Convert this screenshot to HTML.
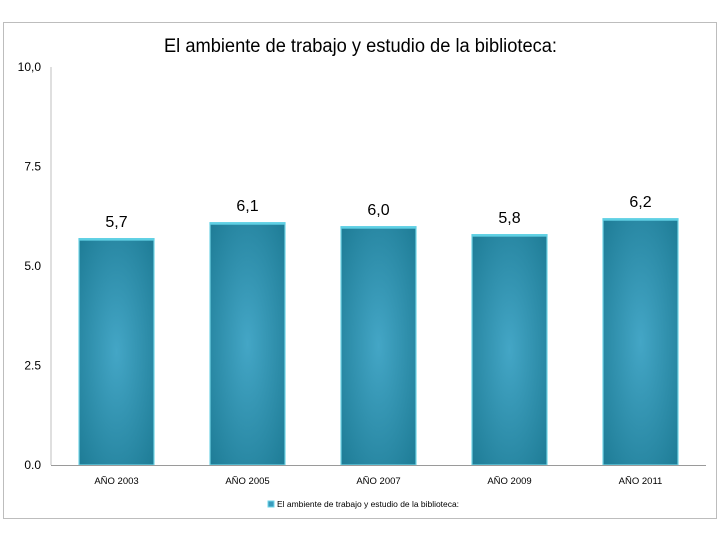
<!DOCTYPE html>
<html><head><meta charset="utf-8"><style>
html,body{margin:0;padding:0;background:#fff;width:720px;height:540px;overflow:hidden}
svg{display:block;font-family:"Liberation Sans",Arial,sans-serif}
</style></head><body>
<svg id="chart" width="720" height="540" viewBox="0 0 720 540">
<defs>
<radialGradient id="barFill" cx="50%" cy="50%" r="70%">
<stop offset="0" stop-color="#44a6c6"/>
<stop offset="1" stop-color="#1e7c96"/>
</radialGradient>
</defs>
<rect x="3.5" y="22.5" width="713" height="496" fill="#fff" stroke="#bdbdbd"/>
<text x="164" y="52" font-size="19" textLength="393" lengthAdjust="spacingAndGlyphs" fill="#000">El ambiente de trabajo y estudio de la biblioteca:</text>
<g id="yaxis"></g>
<g id="bars"></g>
<g id="xaxis"></g>
<g>
<rect x="268" y="501" width="6" height="6" fill="#3a9cbd" stroke="#6fd6ea" stroke-width="1"/>
<text x="277" y="507" font-size="8" textLength="182" lengthAdjust="spacingAndGlyphs" fill="#000">El ambiente de trabajo y estudio de la biblioteca:</text>
</g>
</svg>
<script>
const categories = ["AÑO 2003","AÑO 2005","AÑO 2007","AÑO 2009","AÑO 2011"];
const values = [5.7, 6.1, 6.0, 5.8, 6.2];
const valueLabels = ["5,7","6,1","6,0","5,8","6,2"];
const yTicks = [0, 2.5, 5, 7.5, 10];
const yTickLabels = ["0.0","2.5","5.0","7.5","10,0"];

const NS = "http://www.w3.org/2000/svg";
const plotL = 51, plotR = 706, plotT = 67, plotB = 465, yMax = 10;
const yScale = v => plotB - (v / yMax) * (plotB - plotT);
const band = (plotR - plotL) / categories.length;
const xCenter = i => plotL + band * (i + 0.5);
const barW = 76;
function mk(tag, attrs, parent){const e=document.createElementNS(NS,tag);for(const k in attrs)e.setAttribute(k,attrs[k]);parent.appendChild(e);return e;}

const yG = document.getElementById('yaxis');
let al = mk('line',{x1:plotL,y1:plotT,x2:plotL,y2:plotB,stroke:'#bfbfbf','stroke-width':1},yG);


yTicks.forEach((t,i)=>{
  const tx = mk('text',{x:41,y:yScale(t)+4,'text-anchor':'end','font-size':12,fill:'#000'},yG);
  
  
  tx.textContent = yTickLabels[i];
});

const bG = document.getElementById('bars');
values.forEach((v,i)=>{
  const x = xCenter(i) - barW/2, y = yScale(v);
  const r = mk('rect',{x:x+0.5,y:y+0.5,width:barW-1,height:plotB-y-0.5,fill:'url(#barFill)',stroke:'#72d4e6','stroke-width':1.2},bG);
  
  
  const top = mk('rect',{x:x,y:y,width:barW,height:2.5,fill:'#5fd0e4'},bG);
  
  
  const lb = mk('text',{x:xCenter(i),y:y-11,'text-anchor':'middle','font-size':16,fill:'#000'},bG);
  
  
  lb.textContent = valueLabels[i];
});

const xG = document.getElementById('xaxis');
const bl = mk('line',{x1:plotL,y1:plotB+0.5,x2:plotR,y2:plotB+0.5,stroke:'#9a9a9a','stroke-width':1},xG);


categories.forEach((c,i)=>{
  const t = mk('text',{x:xCenter(i),y:484,'text-anchor':'middle','font-size':9.5,fill:'#000'},xG);
  
  
  t.textContent = c;
});
</script>
</body></html>
